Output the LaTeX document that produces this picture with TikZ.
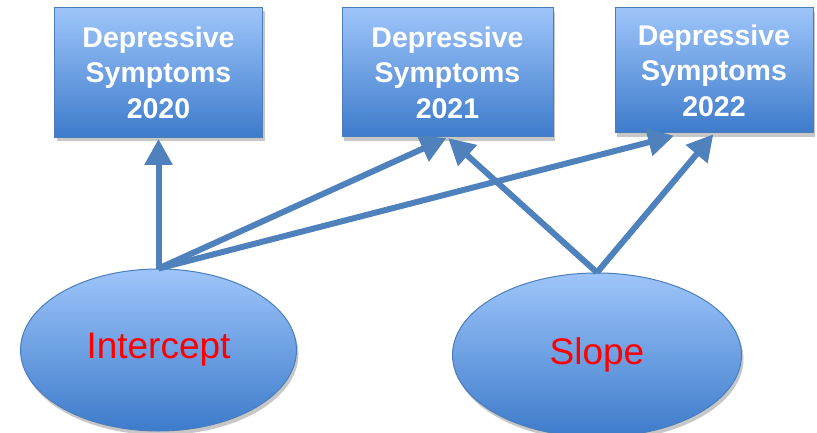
\documentclass[tikz,border=0pt]{standalone}
\usepackage{fontspec}
\setmainfont{Liberation Sans}
\usetikzlibrary{arrows.meta,shadows,shapes.geometric,calc}
\definecolor{boxtop}{HTML}{9EC5FA}
\definecolor{boxbot}{HTML}{3D7BCB}
\definecolor{edgec}{HTML}{4A7EBB}
\definecolor{arrowc}{HTML}{4F81BD}
\begin{document}
\begin{tikzpicture}[x=1pt,y=-1pt,
  myshadow/.style={drop shadow={shadow xshift=2pt,shadow yshift=-4pt,fill=black,opacity=0.22}},
  dsbox/.style={rectangle, draw=edgec, line width=1pt, top color=boxtop, bottom color=boxbot,
    text=white, font=\bfseries\fontsize{28.5}{35.5}\selectfont, align=center, inner sep=0pt, myshadow},
  latent/.style={ellipse, draw=edgec, line width=1pt, top color=boxtop, bottom color=boxbot,
    text=red, font=\fontsize{37}{40}\selectfont, inner sep=0pt, myshadow},
  arr/.style={draw=arrowc, line width=6pt, -{Triangle[length=26pt,width=27pt]}, shorten >=1pt}
]
\useasboundingbox (0,0) rectangle (817,433);
\node[dsbox, minimum width=208pt, minimum height=130pt] (b1) at (158.5,72.5) {Depressive\\Symptoms\\2020};
\node[dsbox, minimum width=211pt, minimum height=129pt] (b2) at (447.5,72.5) {Depressive\\Symptoms\\2021};
\node[dsbox, minimum width=198pt, minimum height=125pt] (b3) at (714,70.5) {Depressive\\Symptoms\\2022};
\node[latent, minimum width=276pt, minimum height=162pt] (int) at (158.5,350) {Intercept};
\node[latent, minimum width=289pt, minimum height=164pt] (slo) at (597,355) {Slope};
\coordinate (b3l) at ($(b3.south)+(-39,2)$);
\draw[arr] (int.north) -- (b1.south);
\draw[arr] (int.north) -- (b2.south);
\draw[arr] (int.north) -- (b3l);
\draw[arr] (slo.north) -- (b2.south);
\draw[arr] (slo.north) -- (b3.south);
\end{tikzpicture}
\end{document}
